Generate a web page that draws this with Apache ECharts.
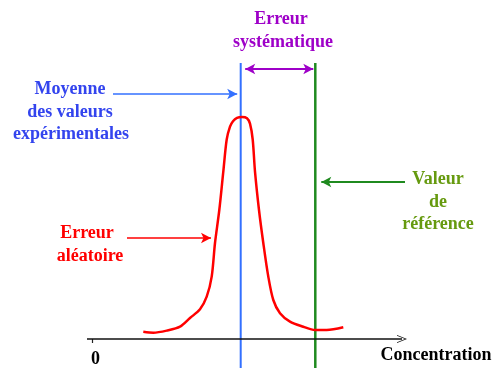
<!DOCTYPE html>
<html>
<head>
<meta charset="utf-8">
<script src="https://cdn.jsdelivr.net/npm/echarts@6/dist/echarts.min.js"></script>
<style>
  html, body { margin: 0; padding: 0; background: #fff; }
  #chart { width: 493px; height: 368px; }
</style>
</head>
<body>
<div id="chart"></div>
<script>
// Distribution of the experimental values (concentration, relative frequency)
const concentration = [5.13, 6.13, 7.47, 8.8, 9.8, 10.8, 11.47, 11.97, 12.3, 12.73, 13.13, 13.47, 13.8, 14.1, 14.5,
  15.0, 15.5, 15.8, 16.07, 16.3, 16.7, 17.13, 17.63, 18.13, 18.8, 19.8, 21.13, 22.3, 23.47, 25.13];
const frequency = [2.4, 2.1, 2.8, 4.1, 7.0, 9.9, 14.1, 20.8, 32, 43, 55.8, 66.5, 70.8, 72.6, 73.7,
  74.0, 73.6, 71.8, 66.5, 55.8, 43, 32, 20.8, 13, 8.6, 5.8, 4.1, 3.0, 3.0, 3.9];

// Key values on the concentration axis
const meanValue = 14.87;       // moyenne des valeurs expérimentales
const referenceValue = 22.33;  // valeur de référence
const axisTicks = [0];
const axisTickLabels = ['0'];

const X_MIN = -9.2, X_MAX = 40.1;
const Y_MIN = 0, Y_MAX = 113;
const LINE_BOTTOM = -29 / 3;   // vertical markers run down to the page edge
const LINE_TOP = 92;
const AXIS_END = 31;

const FONT = 'bold 18px "Liberation Serif", "Times New Roman", serif';
const PURPLE = '#9e00c8', BLUE_LINE = '#3370ff', BLUE_TEXT = '#3344ee';
const GREEN_LINE = '#1f8a1f', GREEN_TEXT = '#669a0f', RED = '#ff0000';

const chart = echarts.init(document.getElementById('chart'), null, { renderer: 'canvas' });

function seg(x1, y1, x2, y2, color, width, s1, s2) {
  return [
    { coord: [x1, y1], symbol: s1, lineStyle: { color: color, width: width, type: 'solid' } },
    { coord: [x2, y2], symbol: s2 }
  ];
}

function marker(name, value, color, width) {
  return {
    name: name, type: 'line', silent: true, clip: false, symbol: 'none', showSymbol: false,
    data: [[value, LINE_BOTTOM], [value, LINE_TOP]],
    lineStyle: { color: color, width: width }, z: 2
  };
}

const chevron = 'path://M0,10 L5,0 L10,10 L9,10 L5,2 L1,10 Z';

function label(text, x, y, color) {
  return {
    type: 'text', x: x, y: y, silent: true,
    style: { text: text, fill: color, font: FONT, align: 'center', verticalAlign: 'middle' }
  };
}

chart.setOption({
  animation: false,
  grid: { left: 0, right: 0, top: 0, bottom: 29, containLabel: false, outerBoundsMode: 'none' },
  xAxis: {
    type: 'value', min: X_MIN, max: X_MAX, position: 'bottom',
    splitLine: { show: false },
    axisLine: { show: false, onZero: false },
    axisTick: { show: true, customValues: axisTicks, length: 4, lineStyle: { color: '#222', width: 1.2 } },
    axisLabel: {
      show: true, customValues: axisTicks, margin: 13, lineHeight: 14, padding: [0, 0, 0, 7],
      formatter: function (v) { return axisTickLabels[axisTicks.indexOf(v)] || ''; },
      color: '#000', fontFamily: '"Liberation Serif", serif', fontWeight: 'bold', fontSize: 18
    }
  },
  yAxis: { type: 'value', min: Y_MIN, max: Y_MAX, show: false, splitLine: { show: false } },
  series: [
    marker('moyenne', meanValue, BLUE_LINE, 2),
    marker('référence', referenceValue, GREEN_LINE, 2.5),
    {
      name: 'annotations', type: 'line', data: [], silent: true, clip: false,
      markLine: {
        silent: true, animation: false, precision: 4,
        label: { show: false },
        symbolSize: [8, 10],
        data: [
          // concentration axis with open arrow head
          seg(-0.5, 0, AXIS_END, 0, '#111', 1.5, 'none', chevron),
          // systematic error
          seg(meanValue + 0.45, 90, referenceValue - 0.2, 90, PURPLE, 2, 'arrow', 'arrow'),
          // pointers
          seg(2.1, 81.67, meanValue - 0.35, 81.67, BLUE_LINE, 1.5, 'none', 'arrow'),
          seg(3.5, 33.67, 11.9, 33.67, RED, 1.5, 'none', 'arrow'),
          seg(31.3, 52.33, referenceValue + 0.6, 52.33, GREEN_LINE, 1.8, 'none', 'arrow')
        ]
      }
    },
    {
      name: 'distribution', type: 'line', smooth: 0.3, showSymbol: false, symbol: 'none',
      data: concentration.map(function (c, i) { return [c, frequency[i]]; }),
      lineStyle: { color: RED, width: 2.5 }, z: 3
    }
  ],
  graphic: [
    label('Erreur', 281, 19, PURPLE),
    label('systématique', 283, 42, PURPLE),
    label('Moyenne', 70, 89, BLUE_TEXT),
    label('des valeurs', 70, 112, BLUE_TEXT),
    label('expérimentales', 71, 134, BLUE_TEXT),
    label('Valeur', 438, 179, GREEN_TEXT),
    label('de', 438, 202, GREEN_TEXT),
    label('référence', 438, 224, GREEN_TEXT),
    label('Erreur', 87, 233, RED),
    label('aléatoire', 90, 256, RED),
    label('Concentration', 436, 355, '#000')
  ]
});
</script>
</body>
</html>
